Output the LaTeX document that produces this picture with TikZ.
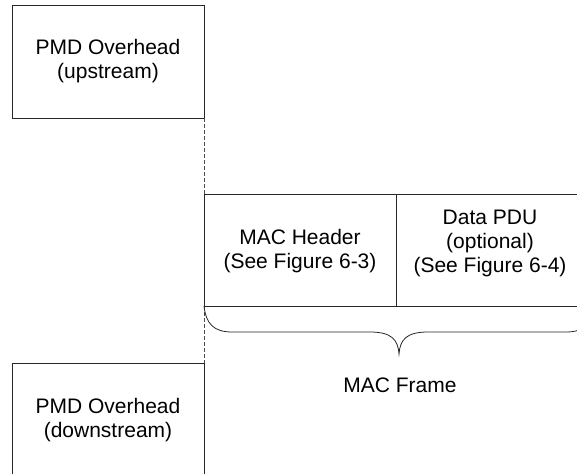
\documentclass[tikz,border=0pt]{standalone}
\usepackage{fontspec}
\setmainfont{Liberation Sans}
\begin{document}
\begin{tikzpicture}[x=1pt,y=-1pt,
  lbl/.style={align=center,inner sep=0pt,font=\fontsize{21}{24}\selectfont},
  solidline/.style={draw=black!85,line width=0.9pt},
  dashline/.style={draw=black!70,line width=0.9pt,dash pattern=on 4pt off 2pt}]
\useasboundingbox (0,0) rectangle (577,473);
% coordinates
\coordinate (uTL) at (12,5);
\coordinate (uBR) at (204,118);
\coordinate (mTL) at (204,194);
\coordinate (mBR) at (396,306);
\coordinate (dTR) at (590,194);
\coordinate (dBR) at (590,306);
\coordinate (lTL) at (12,363);
\coordinate (lTR) at (204,363);
\coordinate (lBL) at (12,480);
\coordinate (lBR) at (204,480);
% upper box
\draw[solidline] (uTL) rectangle (uBR);
\node[lbl] (up) at (108,61) {PMD Overhead\\(upstream)};
% dashed connectors
\draw[dashline] (uBR) -- (mTL);
\draw[dashline] (mTL |- mBR) -- (lTR);
% MAC header and data PDU
\draw[solidline] (mTL) rectangle (mBR);
\draw[solidline] (mBR -| mTL) -- (dBR);
\draw[solidline] (mBR |- mTL) -- (dTR);
\node[lbl] (hdr) at (300,251) {MAC Header\\(See Figure 6-3)};
\node[lbl] (pdu) at (490,243) {Data PDU\\(optional)\\(See Figure 6-4)};
% brace
\coordinate (bL) at (204,306);
\coordinate (bTip) at (399,354);
\coordinate (bR) at (594,306);
\draw[solidline,line width=0.8pt] (bL) .. controls (206,324) and (214,332) .. (232,332)
  -- (370,332) .. controls (392,332) and (398,340) .. (bTip)
  .. controls (400,340) and (406,332) .. (428,332)
  -- (566,332) .. controls (584,332) and (592,324) .. (bR);
\node[lbl] (frame) at (400,385) {MAC Frame};
% lower box (open at bottom)
\draw[solidline] (lBL) -- (lTL) -- (lTR) -- (lBR);
\node[lbl] (down) at (108,420) {PMD Overhead\\(downstream)};
\end{tikzpicture}
\end{document}
